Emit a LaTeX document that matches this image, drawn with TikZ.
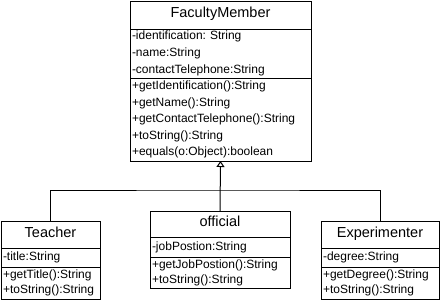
\documentclass[tikz,border=0pt]{standalone}
\usepackage{fontspec}
\setmainfont{Liberation Sans}
\usetikzlibrary{arrows.meta}
\frenchspacing

\tikzset{
  compartment/.style={draw, line width=1pt, outer sep=0pt, inner xsep=2pt,
    inner ysep=0pt, anchor=north west},
  classname/.style n args={3}{compartment, align=center,
    minimum width=#1, text width=#2, minimum height=#3,
    font=\fontsize{14.5}{17}\selectfont, text depth=5.5pt},
  members/.style n args={3}{compartment, align=left,
    minimum width=#1, text width=#2, minimum height=#3,
    font=\fontsize{12}{15}\selectfont},
  spacing/.style={font=\fontsize{12}{#1}\selectfont},
  link/.style={line width=1pt},
  inherit/.style={link, -{Triangle[open, length=6pt, width=8pt, line width=1pt]}},
}

\begin{document}
\begin{tikzpicture}[x=1pt, y=-1pt]
  \useasboundingbox (0,0) rectangle (441,301);

  % superclass
  \node[classname={181pt}{177pt}{28pt}] (fm) at (130,1) {FacultyMember};
  \node[members={181pt}{177pt}{49pt}, spacing=17] (fmattr) at (fm.south west)
    {-identification: String\\-name:String\\-contactTelephone:String};
  \node[members={181pt}{177pt}{83pt}, spacing=16.5] (fmops) at (fmattr.south west)
    {+getIdentification():String\\+getName():String\\+getContactTelephone():String\\+toString():String\\+equals(o:Object):boolean};

  % subclasses
  \node[classname={99pt}{95pt}{27pt}] (teacher) at (1,221) {Teacher};
  \node[members={99pt}{95pt}{19pt}] (teacherattr) at (teacher.south west) {-title:String};
  \node[members={99pt}{95pt}{32pt}] (teacherops) at (teacherattr.south west)
    {+getTitle():String\\+toString():String};

  \node[classname={140pt}{136pt}{26pt}] (official) at (150,211) {official};
  \node[members={140pt}{136pt}{20pt}] (officialattr) at (official.south west) {-jobPostion:String};
  \node[members={140pt}{136pt}{31pt}] (officialops) at (officialattr.south west)
    {+getJobPostion():String\\+toString():String};

  \node[classname={118pt}{114pt}{27pt}] (exp) at (321,221) {Experimenter};
  \node[members={118pt}{114pt}{19pt}] (expattr) at (exp.south west) {-degree:String};
  \node[members={118pt}{114pt}{32pt}] (expops) at (expattr.south west)
    {+getDegree():String\\+toString():String};

  % generalisation tree
  \coordinate (bus) at (220.5,190);
  \draw[link] (teacher.north) |- (bus) -| (exp.north);
  \draw[inherit] (official.north) -- (fmops.south);
\end{tikzpicture}
\end{document}
